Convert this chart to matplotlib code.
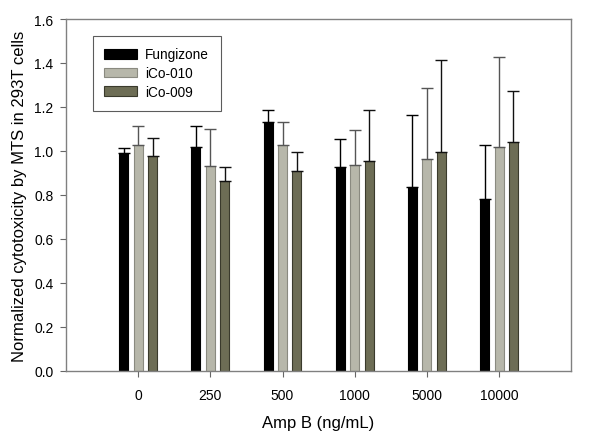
"""Normalized cytotoxicity bar chart (MTS, 293T cells)."""

import matplotlib

matplotlib.use("Agg")
import matplotlib.pyplot as plt
import numpy as np

plt.rcParams["font.family"] = ["Liberation Sans", "DejaVu Sans"]

doses = ["0", "250", "500", "1000", "5000", "10000"]
series_names = ["Fungizone", "iCo-010", "iCo-009"]

fungizone = [0.99, 1.02, 1.13, 0.925, 0.838, 0.782]
ico010 = [1.028, 0.93, 1.028, 0.938, 0.965, 1.02]
ico009 = [0.975, 0.862, 0.91, 0.953, 0.994, 1.042]

fungizone_err = [0.022, 0.092, 0.056, 0.128, 0.327, 0.245]
ico010_err = [0.086, 0.17, 0.104, 0.157, 0.323, 0.407]
ico009_err = [0.085, 0.064, 0.084, 0.235, 0.42, 0.229]

fills = ["#000000", "#b7b7aa", "#6d6d55"]
edges = ["#000000", "#8a8a80", "#3a3a2c"]
err_colors = ["#000000", "#555555", "#111111"]

fig = plt.figure(figsize=(6.0, 4.35), dpi=100)
ax = fig.add_axes([0.11, 0.145, 0.842, 0.809])

x = np.arange(len(doses))
width = 0.125
offsets = [-0.2, 0.0, 0.2]
values = [fungizone, ico010, ico009]
errors = [fungizone_err, ico010_err, ico009_err]

for name, vals, errs, off, fc, ec, erc in zip(
    series_names, values, errors, offsets, fills, edges, err_colors
):
    ax.bar(x + off, vals, width, color=fc, edgecolor=ec, linewidth=0.8, label=name)
    ax.errorbar(
        x + off,
        vals,
        yerr=[np.zeros(len(vals)), errs],
        fmt="none",
        ecolor=erc,
        elinewidth=1.0,
        capsize=4.5,
        capthick=1.0,
    )

ax.set_xlim(-1.0, 6.0)
ax.set_ylim(0, 1.6)
ax.set_xticks(x)
ax.set_xticklabels(doses)
ax.set_yticks(np.arange(0, 1.61, 0.2))
ax.set_yticklabels([f"{v:.1f}" for v in np.arange(0, 1.61, 0.2)])
ax.tick_params(labelsize=10, length=4, width=0.8, color="#666666", pad=5)
ax.tick_params(axis="x", pad=8)
for spine in ax.spines.values():
    spine.set_color("#808080")
    spine.set_linewidth(1.0)

ax.set_xlabel("Amp B (ng/mL)", fontsize=12, labelpad=10)
ax.set_ylabel("Normalized cytotoxicity by MTS in 293T cells", fontsize=12, labelpad=5)

leg = ax.legend(
    loc="upper left",
    bbox_to_anchor=(0.053, 0.952),
    fontsize=9.8,
    frameon=True,
    fancybox=False,
    handlelength=2.4,
    handleheight=0.75,
    handletextpad=0.6,
    labelspacing=0.35,
    borderpad=0.85,
    borderaxespad=0,
)
leg.get_frame().set_edgecolor("#333333")
leg.get_frame().set_linewidth(0.8)

fig.savefig("out.png", dpi=100)
